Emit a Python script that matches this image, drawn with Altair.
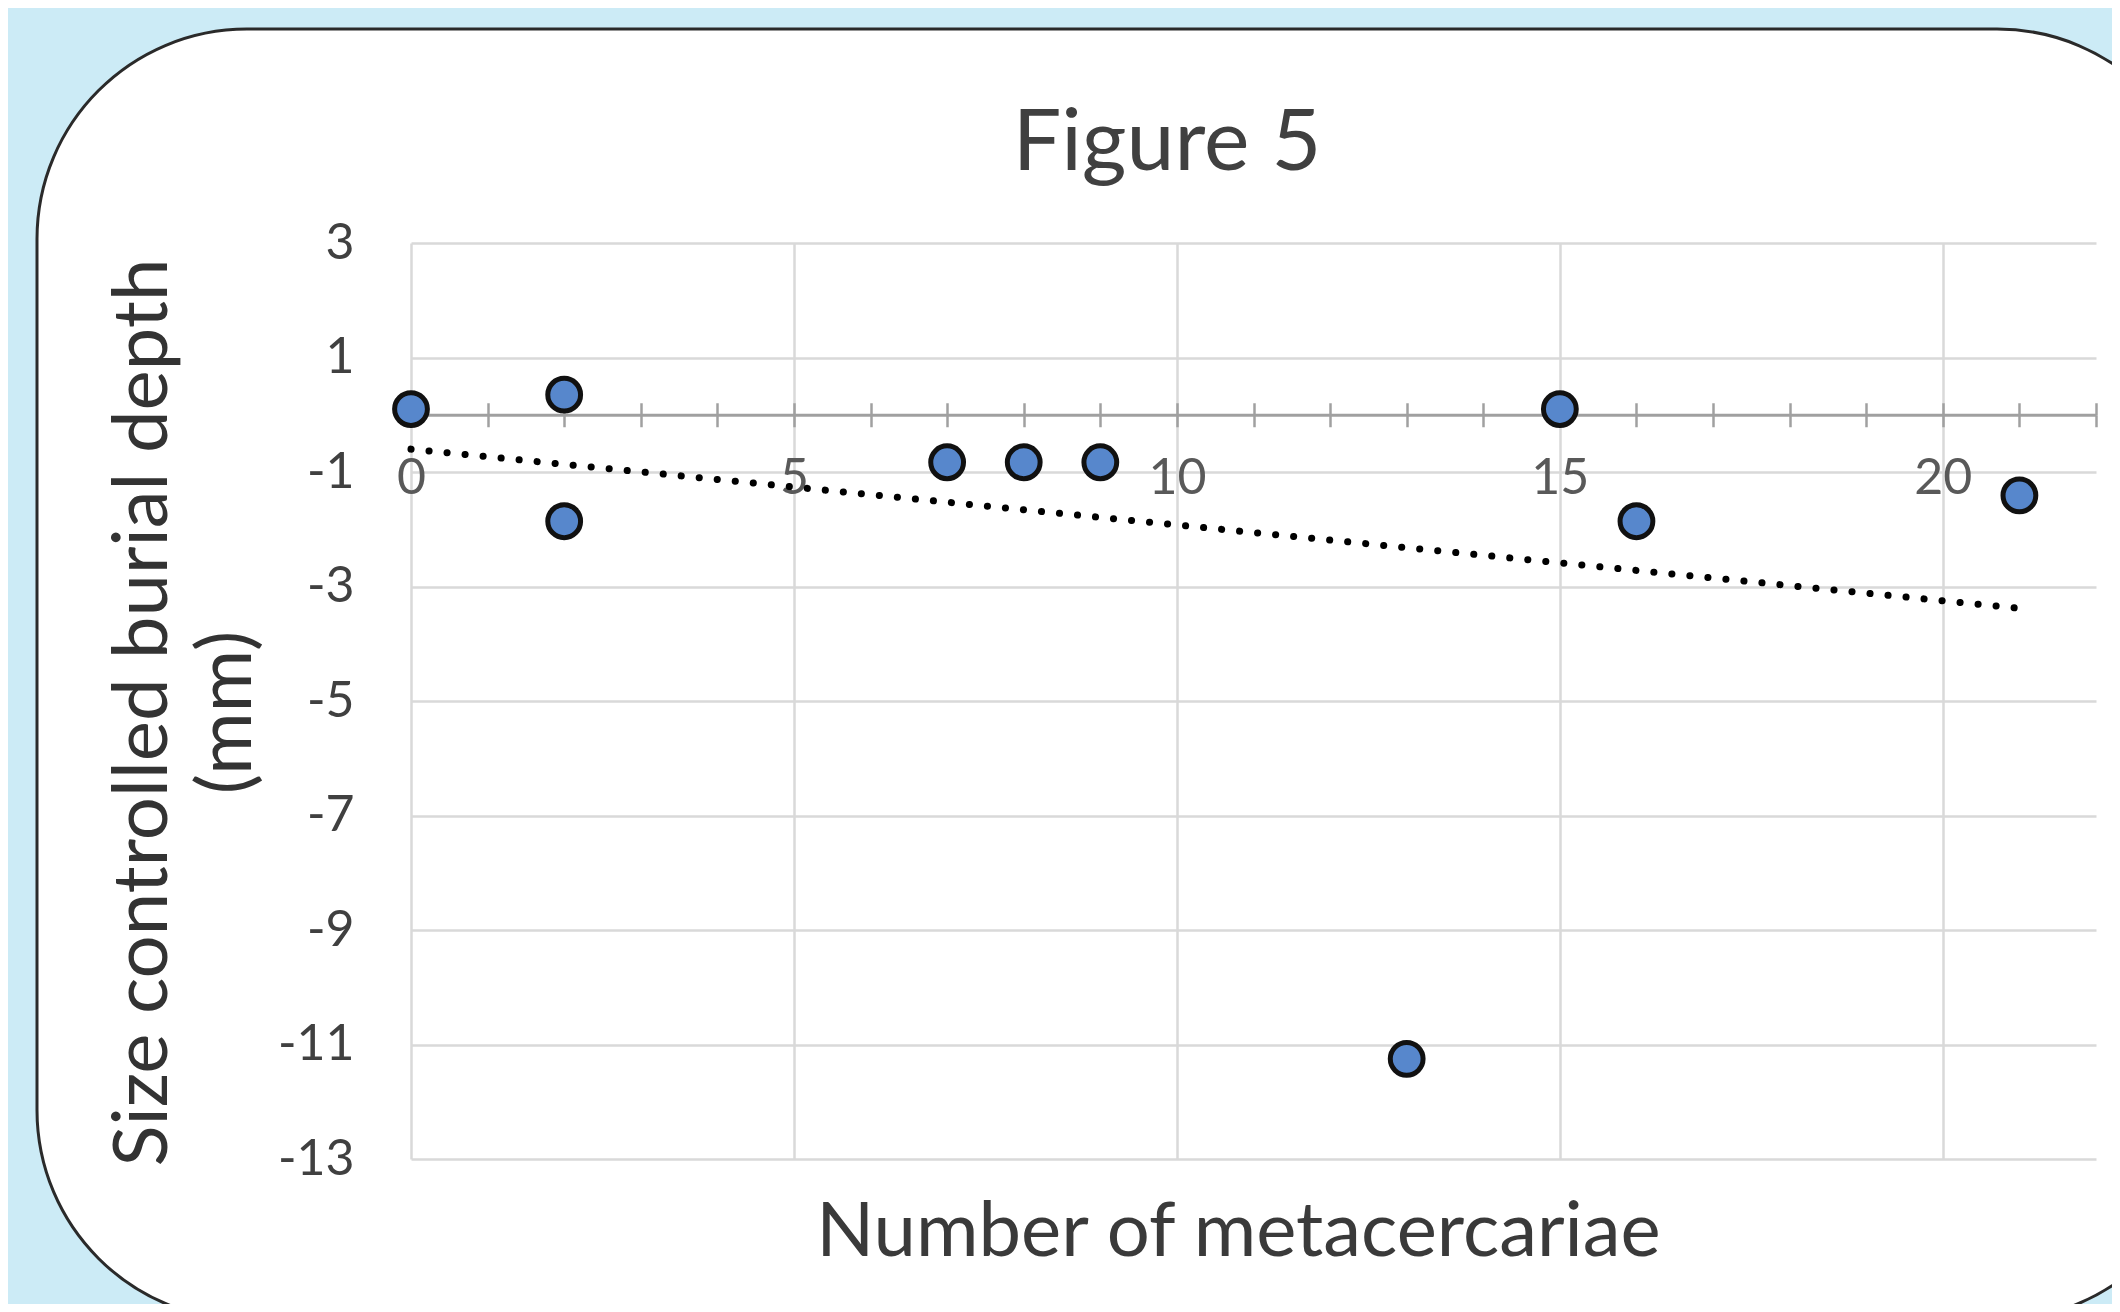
import altair as alt
import pandas as pd

# ---- data ----
metacercariae = [0, 2, 2, 7, 8, 9, 13, 15, 16, 21]
burial_depth = [0.1, 0.35, -1.86, -0.83, -0.83, -0.83, -11.25, 0.1, -1.86, -1.41]

x_major_ticks = [0, 5, 10, 15, 20]
x_minor_ticks = list(range(0, 23))
y_ticks = [3, 1, -1, -3, -5, -7, -9, -11, -13]
x_domain = [0, 22]
y_domain = [-13, 3]
chart_title = "Figure 5"

df = pd.DataFrame({"n": metacercariae, "depth": burial_depth})

W, H = 1685, 916
FONT = "Lato"
BLUE_BG = "#CCEBF6"
y0_from_top = (y_domain[1] - 0) / (y_domain[1] - y_domain[0]) * H

x_scale = alt.Scale(domain=x_domain, nice=False, zero=False)
y_scale = alt.Scale(domain=y_domain, nice=False, zero=False)

y_axis = alt.Axis(
    values=y_ticks, grid=True, gridColor="#d9d9d9", gridWidth=2.5,
    domain=False, ticks=False, tickSize=0,
    labelExpr="'' + datum.value",
    labelFont=FONT, labelFontSize=50, labelColor="#404040", labelPadding=57,
    labelOverlap=False,
    title=["Size controlled burial depth", "(mm)"], titleFont=FONT,
    titleFontSize=76, titleFontWeight="normal", titleColor="#333333",
    titleAngle=270, titleX=-245, titleY=469, titleAlign="center",
    titleBaseline="alphabetic", titleLineHeight=84,
)

x_axis_grid = alt.Axis(
    orient="bottom", values=x_major_ticks, grid=True, gridColor="#d9d9d9",
    gridWidth=2.5, domain=False, ticks=False, labels=False,
    title="Number of metacercariae", titleFont=FONT, titleFontSize=76,
    titleFontWeight="normal", titleColor="#3a3a3a", titleX=827, titleY=96,
    titleAlign="center", titleBaseline="alphabetic",
)

x_axis_zero = alt.Axis(
    orient="bottom", offset=-(H - y0_from_top), values=x_minor_ticks,
    grid=False, domain=True, domainColor="#a0a0a0", domainWidth=3,
    ticks=True, tickColor="#a0a0a0", tickWidth=2.5, tickSize=12,
    labels=True, labelExpr="datum.value % 5 == 0 ? datum.label : ''",
    labelFont=FONT, labelFontSize=50, labelColor="#595959", labelPadding=27,
    labelOverlap=False, labelFlush=False, title=None,
)

x_axis_up = alt.Axis(
    orient="top", offset=-y0_from_top, values=x_minor_ticks, grid=False,
    domain=False, ticks=True, tickColor="#a0a0a0", tickWidth=2.5, tickSize=12,
    labels=False, title=None,
)

one = pd.DataFrame({"title": [chart_title]})

# light-blue surround outside the rounded white panel (a very wide stroke)
surround = alt.Chart(one).mark_rect(
    fillOpacity=0, stroke=BLUE_BG, strokeWidth=600, cornerRadius=510
).encode(
    x=alt.value(-674), x2=alt.value(2096), y=alt.value(-514), y2=alt.value(1377)
)

border = alt.Chart(one).mark_rect(
    fillOpacity=0, stroke="#2a2a2a", strokeWidth=3, cornerRadius=210
).encode(
    x=alt.value(-374), x2=alt.value(1796), y=alt.value(-214), y2=alt.value(1077)
)

title_text = alt.Chart(one).mark_text(
    font=FONT, fontSize=86, color="#404040", align="center", baseline="alphabetic"
).encode(
    text="title:N", x=alt.value(756), y=alt.value(-73)
)

trend = alt.Chart(df).transform_regression("n", "depth").mark_line(
    color="black", strokeWidth=7, strokeDash=[0.1, 18], strokeCap="round"
).encode(
    x=alt.X("n:Q", scale=x_scale, axis=x_axis_grid),
    y=alt.Y("depth:Q", scale=y_scale, axis=y_axis),
)

ghost = alt.Chart(df).mark_circle(opacity=0, size=1).encode(
    x=alt.X("n:Q", scale=x_scale, axis=x_axis_up),
    y=alt.Y("depth:Q", scale=y_scale, axis=y_axis),
)

points = alt.Chart(df).mark_circle(
    size=1075, color="#5787CC", opacity=1, stroke="#111111", strokeWidth=5
).encode(
    x=alt.X("n:Q", scale=x_scale, axis=x_axis_zero),
    y=alt.Y("depth:Q", scale=y_scale, axis=y_axis),
)

chart = alt.layer(surround, border, title_text, trend, ghost, points).resolve_axis(
    x="independent"
).properties(
    width=W, height=H,
    padding={"left": 403, "top": 235, "right": 16, "bottom": 145},
    autosize=alt.AutoSizeParams(type="none"),
    background="white",
).configure_view(stroke="transparent")

chart.save("out.html", embed_options={"renderer": "svg", "actions": False})
